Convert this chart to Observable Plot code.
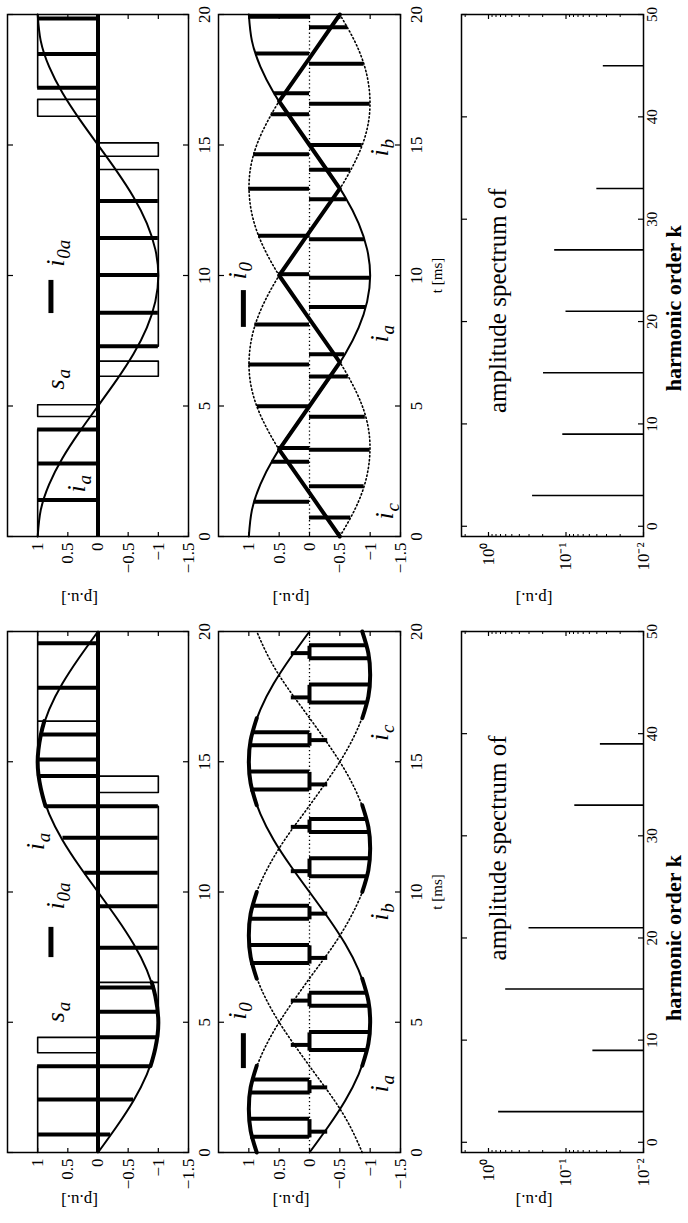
<!DOCTYPE html>
<html><head><meta charset="utf-8">
<script src="https://cdn.jsdelivr.net/npm/d3@7"></script>
<script src="https://cdn.jsdelivr.net/npm/@observablehq/plot@0.6"></script>
<style>
html,body{margin:0;padding:0;background:#fff;overflow:hidden;}
#page{position:relative;width:688px;height:1223px;overflow:hidden;background:#fff;}
#fig{position:absolute;left:0;top:0;width:1223px;height:688px;transform-origin:0 0;transform:translate(0px,1223px) rotate(-90deg);}
#fig svg{position:absolute;overflow:visible;max-width:none;background:transparent;}
</style></head><body><div id="page"><div id="fig"></div></div>
<script>
// ---------------- DATA ----------------
const tGrid = [0,1,2,3,4,5,6,7,8,9,10,11,12,13,14,15,16,17,18,19,20];
// right-hand column of the original figure (top of page)
const iaR = [1,0.95,0.81,0.59,0.31,0,-0.31,-0.59,-0.81,-0.95,-1,-0.95,-0.81,-0.59,-0.31,0,0.31,0.59,0.81,0.95,1];
const ibR = [-0.5,-0.21,0.10,0.41,0.67,0.87,0.98,0.99,0.91,0.74,0.5,0.21,-0.10,-0.41,-0.67,-0.87,-0.98,-0.99,-0.91,-0.74,-0.5];
const icR = [-0.5,-0.74,-0.91,-0.99,-0.98,-0.87,-0.67,-0.41,-0.10,0.21,0.5,0.74,0.91,0.99,0.98,0.87,0.67,0.41,0.10,-0.21,-0.5];
// left-hand column of the original figure (bottom of page)
const iaL = [0,-0.31,-0.59,-0.81,-0.95,-1,-0.95,-0.81,-0.59,-0.31,0,0.31,0.59,0.81,0.95,1,0.95,0.81,0.59,0.31,0];
const ibL = [0.87,0.98,0.99,0.91,0.74,0.5,0.21,-0.10,-0.41,-0.67,-0.87,-0.98,-0.99,-0.91,-0.74,-0.5,-0.21,0.10,0.41,0.67,0.87];
const icL = [-0.87,-0.67,-0.41,-0.10,0.21,0.5,0.74,0.91,0.99,0.98,0.87,0.67,0.41,0.10,-0.21,-0.5,-0.74,-0.91,-0.99,-0.98,-0.87];

// switching function s_a : [t, level] (step after)
const saR = [[0,1],[4.1,0],[4.6,1],[5.05,0],[6.14,-1],[6.72,0],[7.29,-1],[14.06,0],[14.57,-1],[15.08,0],[16.1,1],[16.75,0],[17.2,1],[20,1]];
const saL = [[0,1],[3.31,0],[3.83,1],[4.42,-1],[6.53,0],[6.53,-1],[13.29,0],[13.82,-1],[14.45,1],[16.56,0],[16.56,1],[20,1]];
// i_0a pulses : [t, from, to]
const i0aR = [[1.40,0,1],[2.80,0,1],[4.10,0,1],[7.29,-1,0],[8.57,-1,0],[10.02,-1,0],[11.44,-1,0],[12.85,-1,0],[17.19,0,1],[18.49,0,1],[19.85,0,1]];
const i0aL = [[0.69,-0.21,1],[2.03,-0.59,1],[3.31,-0.87,1],[4.42,-0.98,0],[5.40,-1,0],[6.33,-0.95,0],[7.86,-1,0],[9.45,-1,0],[10.74,-1,0.22],[12.08,-1,0.58],[13.29,-1,0.87],[14.45,0,0.98],[15.09,0,1],[16.05,0,0.95],[17.84,0,1],[19.55,0,1]];
// i_0a following i_a : [segment, t, value]
const i0aArcL = [[1,3.31,-0.87],[1,4,-0.95],[1,5,-1],[1,6,-0.95],[1,6.53,-0.89],[2,13.29,0.87],[2,14,0.95],[2,15,1],[2,16,0.95],[2,16.56,0.89]];

// i_0 (right column): middle-phase part and pulses [t, value]
const i0MidR = [[0,-0.5],[1.67,0],[3.33,0.5],[5,0],[6.67,-0.5],[8.33,0],[10,0.5],[11.67,0],[13.33,-0.5],[15,0],[16.67,0.5],[18.33,0],[20,-0.5]];
const i0PulseR = [[1.33,0.91],[2.86,0.62],[3.39,0.52],[4.99,0.86],[6.59,1.0],[8.12,0.9],[10.05,0.51],[11.52,0.84],[13.32,1.0],[14.65,0.92],[16.18,0.63],[16.98,0.58],[18.51,0.89],[19.91,1.0],
  [0.73,-0.68],[1.93,-0.9],[3.32,-1.0],[4.59,-0.92],[6.13,-0.64],[6.98,-0.58],[8.79,-0.93],[9.91,-1.0],[11.39,-0.91],[12.92,-0.61],[14.05,-0.68],[15.0,-0.87],[16.58,-1.0],[18.11,-0.9],[19.51,-0.63]];
// i_0 (left column): envelope arcs [segment, t, value], pulses [t, value], zero intervals [t1, t2], short pulses [t, value]
const i0ArcL = [[1,0,0.87],[1,0.83,0.97],[1,1.67,1],[1,2.5,0.97],[1,3.33,0.87],
  [2,3.33,-0.87],[2,4.17,-0.97],[2,5,-1],[2,5.83,-0.97],[2,6.67,-0.87],
  [3,6.67,0.87],[3,7.5,0.97],[3,8.33,1],[3,9.17,0.97],[3,10,0.87],
  [4,10,-0.87],[4,10.83,-0.97],[4,11.67,-1],[4,12.5,-0.97],[4,13.33,-0.87],
  [5,13.33,0.87],[5,14.17,0.97],[5,15,1],[5,15.83,0.97],[5,16.67,0.87],
  [6,16.67,-0.87],[6,17.5,-0.97],[6,18.33,-1],[6,19.17,-0.97],[6,20,-0.87]];
const i0PulseL = [[0.6,0.97],[1.3,0.99],[2.3,0.98],[2.8,0.94],[3.93,-0.97],[4.63,-0.99],[5.63,-0.98],[6.13,-0.94],
  [7.27,0.97],[7.97,0.99],[8.97,0.98],[9.47,0.94],[10.6,-0.97],[11.3,-0.99],[12.3,-0.98],[12.8,-0.94],
  [13.93,0.97],[14.63,0.99],[15.63,0.98],[16.13,0.94],[17.27,-0.97],[17.97,-0.99],[18.97,-0.98],[19.47,-0.94]];
const i0ZeroL = [[0.6,1.3],[2.3,2.8],[3.93,4.63],[5.63,6.13],[7.27,7.97],[8.97,9.47],[10.6,11.3],[12.3,12.8],[13.93,14.63],[15.63,16.13],[17.27,17.97],[18.97,19.47]];
const i0StubL = [[0.8,-0.3],[2.5,-0.3],[4.13,0.3],[5.83,0.3],[7.47,-0.3],[9.17,-0.3],[10.8,0.3],[12.5,0.3],[14.13,-0.3],[15.83,-0.3],[17.47,0.3],[19.17,0.3]];

// amplitude spectra
const harmR = [3, 9, 15, 21, 27, 33, 45];
const ampR  = [0.27, 0.11, 0.195, 0.10, 0.14, 0.04, 0.033];
const harmL = [3, 9, 15, 21, 33, 39];
const ampL  = [0.74, 0.045, 0.60, 0.30, 0.077, 0.036];

// ticks
const tTicks = [0, 5, 10, 15, 20];
const vTicks = [-1.5, -1, -0.5, 0, 0.5, 1];
const vTickLabels = ["\u22121.5", "\u22121", "\u22120.5", "0", "0.5", "1"];
const kTicks = [0, 10, 20, 30, 40, 50];
const logTicks = [0.01, 0.1, 1];
const logTickLabels = ["10\u207B\u00B2", "10\u207B\u00B9", "10\u2070"];
const logMinor = [0.02,0.03,0.04,0.05,0.06,0.07,0.08,0.09,0.2,0.3,0.4,0.5,0.6,0.7,0.8,0.9,2];

// annotations (data coordinates)
const labAR = [{t:5.63,v:0.57,m:"s",sub:"a"},{t:10.34,v:0.57,m:"i",sub:"0a"},{t:1.69,v:0.21,m:"i",sub:"a"}];
const dashAR = [{t1:8.58,t2:9.85,v:0.78}];
const labBR = [{t:9.85,v:1.04,m:"i",sub:"0"},{t:7.43,v:-1.3,m:"i",sub:"a"},{t:14.56,v:-1.3,m:"i",sub:"b"},{t:0.65,v:-1.37,m:"i",sub:"c"}];
const dashBR = [{t1:8.05,t2:9.46,v:1.09}];
const labAL = [{t:5.0,v:0.57,m:"s",sub:"a"},{t:9.33,v:0.57,m:"i",sub:"0a"},{t:11.6,v:0.9,m:"i",sub:"a"}];
const dashAL = [{t1:7.52,t2:8.68,v:0.78}];
const labBL = [{t:5.1,v:1.04,m:"i",sub:"0"},{t:2.3,v:-1.3,m:"i",sub:"a"},{t:8.9,v:-1.3,m:"i",sub:"b"},{t:15.8,v:-1.3,m:"i",sub:"c"}];
const dashBL = [{t1:3.26,t2:4.6,v:1.09}];
const specTitle = "amplitude spectrum of";
const specTitlePos = {L: {k: 17.8, a: 0.6}, R: {k: 11.06, a: 0.6}};
const harmLabel = "harmonic order k";
const harmLabelK = {L: 20.0, R: 21.3};

// ---------------- LAYOUT ----------------
const fig = document.getElementById("fig");
const FONT = "'Liberation Serif','Times New Roman',Times,serif";
const M = {l: 80, r: 14, t: 10, b: 60};
const COL = {L: [70, 591], R: [686, 1208]};
const ROW = {A: [7, 188], B: [218, 400], C: [461, 643]};
const PU_OFF = {L: 48, R: 62};

function mk(c, r, opts) {
  const [x0, x1] = COL[c], [y0, y1] = ROW[r];
  const svg = Plot.plot({
    width: x1 - x0 + M.l + M.r, height: y1 - y0 + M.t + M.b,
    marginLeft: M.l, marginRight: M.r, marginTop: M.t, marginBottom: M.b,
    style: {background: "transparent", overflow: "visible", fontFamily: FONT, color: "#000"},
    ...opts
  });
  svg.style.position = "absolute";
  svg.style.left = (x0 - M.l) + "px";
  svg.style.top = (y0 - M.t) + "px";
  svg.style.maxWidth = "none";
  fig.appendChild(svg);
}

function ticksInward(xT, yT) {
  return [
    Plot.axisX(xT, {anchor: "bottom", tickSize: -5, fill: "none", label: null, strokeWidth: 1.2}),
    Plot.axisX(xT, {anchor: "top", tickSize: -5, fill: "none", label: null, strokeWidth: 1.2}),
    Plot.axisY(yT, {anchor: "left", tickSize: -5, fill: "none", label: null, strokeWidth: 1.2}),
    Plot.axisY(yT, {anchor: "right", tickSize: -5, fill: "none", label: null, strokeWidth: 1.2})
  ];
}
function tickText(xT, yT, yFmt, padX, xSize) {
  return [
    Plot.axisX(xT, {anchor: "bottom", tickSize: 0, tickPadding: padX, label: null, fontSize: xSize, fontFamily: FONT}),
    Plot.axisY(yT, {anchor: "left", tickSize: 0, tickPadding: 6, label: null, fontSize: 17, fontFamily: FONT, tickFormat: yFmt})
  ];
}
function pu(c) {
  return Plot.text(["[p.u.]"], {text: d => d, frameAnchor: "left", rotate: -90, dx: -PU_OFF[c], fontSize: 17, fontFamily: FONT});
}
function seriesLabels(lbls) {
  const out = [];
  for (const m of ["i", "s"]) {
    const d = lbls.filter(e => e.m === m);
    if (!d.length) continue;
    out.push(Plot.text(d, {x: "t", y: "v", text: "m", textAnchor: "start", lineAnchor: "bottom", fontSize: 26, fontStyle: "italic", fontFamily: FONT}));
    out.push(Plot.text(d, {x: "t", y: "v", text: "sub", textAnchor: "start", lineAnchor: "bottom", fontSize: 19, fontStyle: "italic", fontFamily: FONT, dx: m === "i" ? 8 : 11, dy: 6}));
  }
  return out;
}
const vFmt = d => vTickLabels[vTicks.indexOf(d)];
const logFmt = d => logTickLabels[logTicks.indexOf(d)];
const curveTable = (vals) => tGrid.map((t, i) => ({t, v: vals[i]}));

for (const c of ["L", "R"]) {
  const ia = c === "L" ? iaL : iaR, ib = c === "L" ? ibL : ibR, ic = c === "L" ? icL : icR;
  const sa = c === "L" ? saL : saR;
  const i0a = c === "L" ? i0aL : i0aR;
  // ---- panel A : s_a, i_a, i_0a ----
  mk(c, "A", {
    x: {domain: [0, 20], axis: null},
    y: {domain: [-1.5, 1.5], axis: null},
    marks: [
      Plot.ruleY([0], {strokeWidth: 4}),
      Plot.line(sa, {x: d => d[0], y: d => d[1], curve: "step-after", strokeWidth: 1.6}),
      Plot.line(curveTable(ia), {x: "t", y: "v", curve: "natural", strokeWidth: 2}),
      c === "L" ? Plot.line(i0aArcL, {x: d => d[1], y: d => d[2], z: d => d[0], curve: "natural", strokeWidth: 4}) : null,
      Plot.ruleX(i0a, {x: d => d[0], y1: d => d[1], y2: d => d[2], strokeWidth: 4}),
      Plot.ruleY(c === "L" ? dashAL : dashAR, {x1: "t1", x2: "t2", y: "v", strokeWidth: 5}),
      ...seriesLabels(c === "L" ? labAL : labAR),
      Plot.frame({strokeWidth: 1.5}),
      ...ticksInward(tTicks, vTicks),
      ...tickText(tTicks, vTicks, vFmt, 9, 17),
      pu(c)
    ]
  });
  // ---- panel B : i_a, i_b, i_c, i_0 ----
  const bMarks = [
    Plot.ruleY([0], {strokeWidth: 1.3, strokeDasharray: "1.3,2.6"}),
    Plot.line(curveTable(ib), {x: "t", y: "v", curve: "natural", strokeWidth: 1.6, strokeDasharray: "1.3,2.6"}),
    Plot.line(curveTable(ic), {x: "t", y: "v", curve: "natural", strokeWidth: 1.6, strokeDasharray: "1.3,2.6"}),
    Plot.line(curveTable(ia), {x: "t", y: "v", curve: "natural", strokeWidth: 2})
  ];
  if (c === "R") {
    bMarks.push(Plot.line(i0MidR, {x: d => d[0], y: d => d[1], strokeWidth: 4}));
    bMarks.push(Plot.ruleX(i0PulseR, {x: d => d[0], y1: 0, y2: d => d[1], strokeWidth: 4}));
  } else {
    bMarks.push(Plot.line(i0ArcL, {x: d => d[1], y: d => d[2], z: d => d[0], curve: "natural", strokeWidth: 4}));
    bMarks.push(Plot.ruleX(i0PulseL, {x: d => d[0], y1: 0, y2: d => d[1], strokeWidth: 4}));
    bMarks.push(Plot.ruleY(i0ZeroL, {x1: d => d[0], x2: d => d[1], y: 0, strokeWidth: 4}));
    bMarks.push(Plot.ruleX(i0StubL, {x: d => d[0], y1: 0, y2: d => d[1], strokeWidth: 4}));
  }
  mk(c, "B", {
    x: {domain: [0, 20], axis: null},
    y: {domain: [-1.5, 1.5], axis: null},
    marks: [
      ...bMarks,
      Plot.ruleY(c === "L" ? dashBL : dashBR, {x1: "t1", x2: "t2", y: "v", strokeWidth: 5}),
      ...seriesLabels(c === "L" ? labBL : labBR),
      Plot.frame({strokeWidth: 1.5}),
      ...ticksInward(tTicks, vTicks),
      ...tickText(tTicks, vTicks, vFmt, 9, 17),
      pu(c),
      Plot.text(["t [ms]"], {text: d => d, frameAnchor: "bottom", dy: 41, fontSize: 15, fontFamily: FONT})
    ]
  });
  // ---- panel C : amplitude spectrum ----
  const hk = c === "L" ? harmL : harmR, ha = c === "L" ? ampL : ampR;
  const spec = hk.map((k, i) => ({k, a: ha[i]}));
  mk(c, "C", {
    x: {domain: [-1, 50], axis: null},
    y: {type: "log", domain: [0.01, 2.23], axis: null},
    marks: [
      Plot.ruleX(spec, {x: "k", y1: 0.01, y2: "a", strokeWidth: 1.6}),
      Plot.text([specTitle], {text: d => d, x: specTitlePos[c].k, y: specTitlePos[c].a, textAnchor: "start", lineAnchor: "bottom", fontSize: 25, fontFamily: FONT}),
      Plot.frame({strokeWidth: 1.5}),
      ...ticksInward(kTicks, logTicks),
      Plot.axisY(logMinor, {anchor: "left", tickSize: -3, fill: "none", label: null, strokeWidth: 1}),
      Plot.axisY(logMinor, {anchor: "right", tickSize: -3, fill: "none", label: null, strokeWidth: 1}),
      ...tickText(kTicks, logTicks, logFmt, 3, 15),
      pu(c),
      Plot.text([harmLabel], {text: d => d, x: harmLabelK[c], frameAnchor: "bottom", dy: 37, lineAnchor: "bottom", fontSize: 22, fontWeight: "bold", fontFamily: FONT})
    ]
  });
}
</script></body></html>
